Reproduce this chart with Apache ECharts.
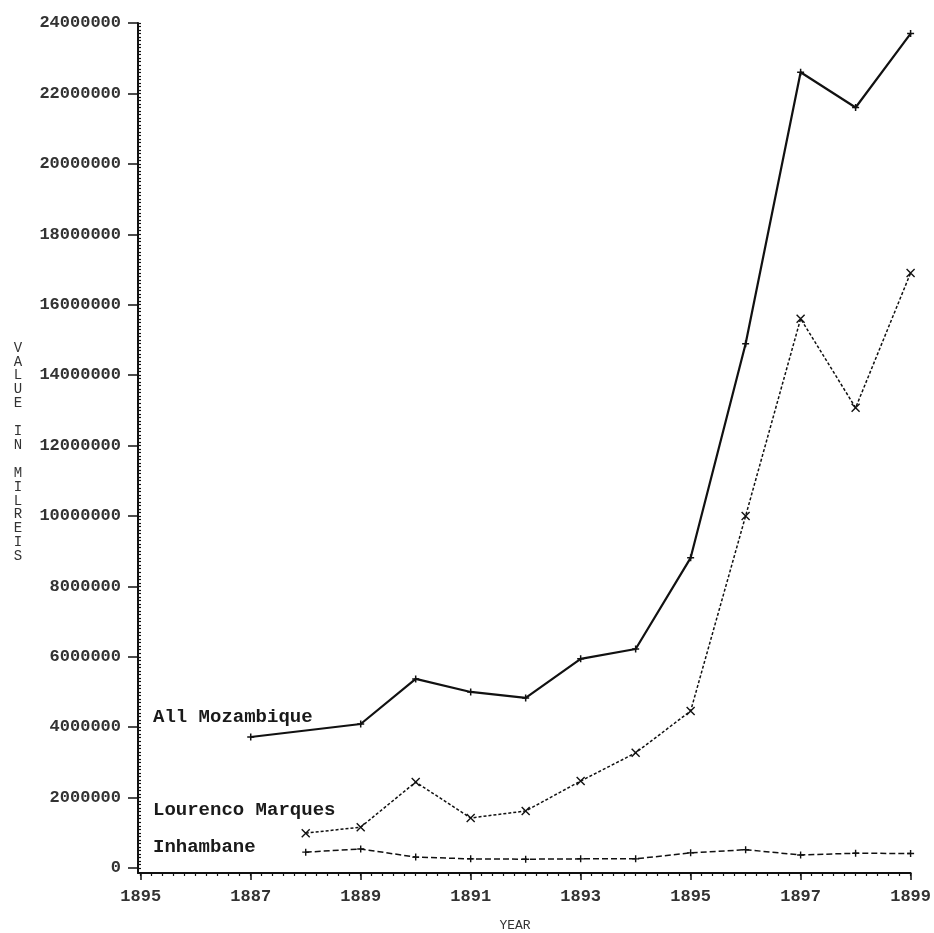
<!DOCTYPE html>
<html>
<head>
<meta charset="utf-8">
<script src="https://cdn.jsdelivr.net/npm/echarts@6/dist/echarts.min.js"></script>
<style>
  html, body { margin: 0; padding: 0; background: #fff; }
  #chart { width: 934px; height: 933px; }
</style>
</head>
<body>
<div id="chart"></div>
<script>
// Export values in milreis, by year
const mozYears = [1887, 1889, 1890, 1891, 1892, 1893, 1894, 1895, 1896, 1897, 1898, 1899];
const mozValues = [3720000, 4090000, 5370000, 5000000, 4830000, 5940000, 6220000, 8810000, 14890000, 22600000, 21600000, 23700000];

const lmYears = [1888, 1889, 1890, 1891, 1892, 1893, 1894, 1895, 1896, 1897, 1898, 1899];
const lmValues = [990000, 1160000, 2440000, 1420000, 1620000, 2470000, 3270000, 4460000, 10000000, 15600000, 13070000, 16900000];

const inhYears = [1888, 1889, 1890, 1891, 1892, 1893, 1894, 1895, 1896, 1897, 1898, 1899];
const inhValues = [450000, 540000, 310000, 260000, 250000, 260000, 260000, 430000, 520000, 370000, 420000, 410000];

// Axis ticks and their printed labels
const yLabelValues = [0, 2000000, 4000000, 6000000, 8000000, 10000000, 12000000, 14000000, 16000000, 18000000, 20000000, 22000000, 24000000];
const xLabelValues = [1885, 1887, 1889, 1891, 1893, 1895, 1897, 1899];
const xLabelText = ['1895', '1887', '1889', '1891', '1893', '1895', '1897', '1899'];

const seriesNames = ['All Mozambique', 'Lourenco Marques', 'Inhambane'];
const yTitle = 'VALUE IN MILREIS';
const xTitle = 'YEAR';

// fine tick marks along both axes
const yMinorTicks = [];
for (let v = 0; v <= 24000000; v += 100000) yMinorTicks.push(v);
const xMinorTicks = [];
for (let i = 0; i <= 70; i++) xMinorTicks.push(Math.round((1885 + i * 0.2) * 10) / 10);

const INK = '#111';
const MONO = '"Liberation Mono", "DejaVu Sans Mono", monospace';

const X_MIN = 1884.95, X_MAX = 1899;
const Y_MIN = -142000, Y_MAX = 24000000;

const plusPath = 'path://M5,0L5,10M0,5L10,5';
const crossPath = 'path://M0,0L10,10M10,0L0,10';

function pairs(xs, ys) { return xs.map((x, i) => [x, ys[i]]); }

const chart = echarts.init(document.getElementById('chart'), null, { renderer: 'canvas' });

chart.setOption({
  animation: false,
  backgroundColor: '#fff',
  grid: { left: 138, right: 14, top: 23, bottom: 60 },
  xAxis: [
    {
      type: 'value', min: X_MIN, max: X_MAX, position: 'bottom',
      axisLine: { onZero: false, lineStyle: { color: INK, width: 2 } },
      axisTick: { customValues: xLabelValues, length: 7, lineStyle: { color: INK, width: 1.5 } },
      axisLabel: {
        customValues: xLabelValues,
        formatter: v => xLabelText[xLabelValues.indexOf(Math.round(v))],
        margin: 15, fontFamily: MONO, fontSize: 17, fontWeight: 'bold', color: '#333'
      },
      splitLine: { show: false }
    },
    {
      type: 'value', min: X_MIN, max: X_MAX, position: 'bottom',
      axisLine: { show: false, onZero: false },
      axisTick: { customValues: xMinorTicks, length: 3, lineStyle: { color: INK, width: 1.2 } },
      axisLabel: { show: false },
      splitLine: { show: false }
    }
  ],
  yAxis: [
    {
      type: 'value', min: Y_MIN, max: Y_MAX, position: 'left',
      axisLine: { show: true, onZero: false, lineStyle: { color: INK, width: 2 } },
      axisTick: { customValues: yLabelValues, length: 10, lineStyle: { color: INK, width: 1.5 } },
      axisLabel: {
        customValues: yLabelValues,
        formatter: v => String(Math.round(v)),
        margin: 17, fontFamily: MONO, fontSize: 17, fontWeight: 'bold', color: '#333'
      },
      splitLine: { show: false }
    },
    {
      type: 'value', min: Y_MIN, max: Y_MAX, position: 'left',
      axisLine: { show: false, onZero: false },
      axisTick: { inside: true, customValues: yMinorTicks, length: 3, lineStyle: { color: INK, width: 1.2 } },
      axisLabel: { show: false },
      splitLine: { show: false }
    }
  ],
  series: [
    {
      name: seriesNames[0], type: 'line', xAxisIndex: 0, yAxisIndex: 0,
      data: pairs(mozYears, mozValues),
      symbol: plusPath, symbolSize: 7,
      itemStyle: { color: INK, borderColor: INK, borderWidth: 1.5 },
      lineStyle: { color: INK, width: 2.2, type: 'solid' },
      z: 5
    },
    {
      name: seriesNames[1], type: 'line', xAxisIndex: 0, yAxisIndex: 0,
      data: pairs(lmYears, lmValues),
      symbol: crossPath, symbolSize: 8,
      itemStyle: { color: INK, borderColor: INK, borderWidth: 1.4 },
      lineStyle: { color: INK, width: 1.5, type: [3, 2] },
      z: 4
    },
    {
      name: seriesNames[2], type: 'line', xAxisIndex: 0, yAxisIndex: 0,
      data: pairs(inhYears, inhValues),
      symbol: plusPath, symbolSize: 7,
      itemStyle: { color: INK, borderColor: INK, borderWidth: 1.4 },
      lineStyle: { color: INK, width: 1.5, type: [6, 3] },
      z: 3
    }
  ],
  graphic: [
    {
      type: 'text', left: 153, top: 708,
      style: { text: seriesNames[0], font: 'bold 19px ' + MONO, fill: '#1a1a1a' }
    },
    {
      type: 'text', left: 153, top: 801,
      style: { text: seriesNames[1], font: 'bold 19px ' + MONO, fill: '#1a1a1a' }
    },
    {
      type: 'text', left: 153, top: 838,
      style: { text: seriesNames[2], font: 'bold 19px ' + MONO, fill: '#1a1a1a' }
    },
    {
      type: 'text', x: 18, y: 341,
      style: {
        text: yTitle.split('').join('\n'),
        font: '14px ' + MONO, lineHeight: 13.9, fill: '#333',
        textAlign: 'center', textVerticalAlign: 'top'
      }
    },
    {
      type: 'text', x: 515, y: 926,
      style: {
        text: xTitle, font: '13px ' + MONO, fill: '#333',
        textAlign: 'center', textVerticalAlign: 'middle'
      }
    }
  ]
});
</script>
</body>
</html>
